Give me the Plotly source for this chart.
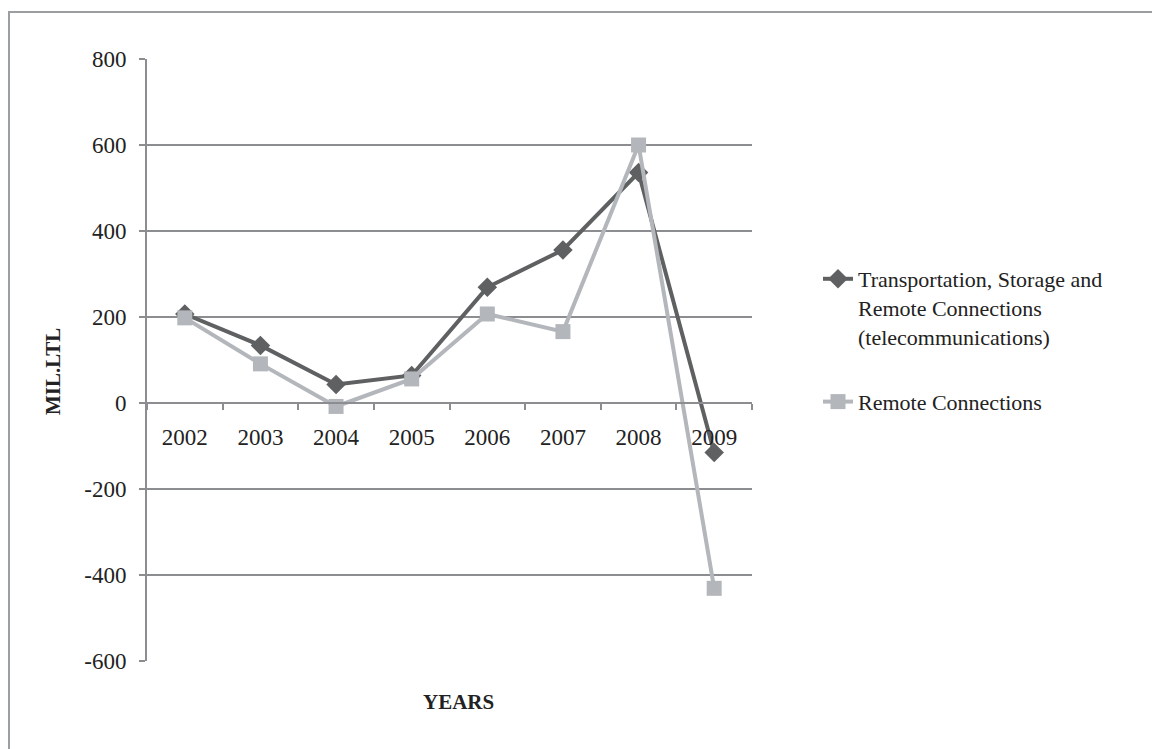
import plotly.graph_objects as go

years = ["2002", "2003", "2004", "2005", "2006", "2007", "2008", "2009"]
transport = [207, 134, 43, 64, 269, 356, 536, -115]
remote = [198, 91, -8, 56, 207, 166, 600, -431]
name_transport = "Transportation, Storage and<br>Remote Connections<br>(telecommunications)"
name_remote = "Remote Connections"
ytick_vals = [-600, -400, -200, 0, 200, 400, 600, 800]
ytick_text = ["-600", "-400", "-200", "0", "200", "400", "600", "800"]

W, H = 1152, 749
L, R, T, B = 147, 752, 59, 661
pw, ph = R - L, B - T


def px(x):
    return (x - L) / pw


def py(y):
    return (B - y) / ph


FONT = "Liberation Serif"
DARK = "#5e6061"
LIGHT = "#b3b6ba"
GRID = "#8b8d90"

fig = go.Figure()
fig.add_trace(go.Scatter(
    x=years, y=transport, name=name_transport, mode="lines+markers",
    line=dict(color=DARK, width=4),
    marker=dict(symbol="diamond", size=15, color=DARK),
    legendgroup="a",
))
fig.add_trace(go.Scatter(
    x=years, y=remote, name=name_remote, mode="lines+markers",
    line=dict(color=LIGHT, width=4),
    marker=dict(symbol="square", size=15, color=LIGHT),
    legendgroup="b",
))

fig.update_layout(
    width=W, height=H,
    margin=dict(l=L, r=W - R, t=T, b=H - B, pad=0),
    paper_bgcolor="white", plot_bgcolor="white",
    font=dict(family=FONT, size=22, color="#222222"),
    showlegend=True,
    legend=dict(
        x=px(818), y=py(258), xanchor="left", yanchor="top",
        font=dict(family=FONT, size=22, color="#222222"),
        valign="top", tracegroupgap=34, bgcolor="rgba(0,0,0,0)",
        itemwidth=30,
    ),
    xaxis=dict(
        type="category", categoryorder="array", categoryarray=years,
        range=[-0.5, 7.5], anchor="free", position=600 / 1400,
        showline=True, linecolor=GRID, linewidth=2,
        ticks="outside", ticklen=6, tickwidth=2, tickcolor=GRID,
        tickson="boundaries", showgrid=False, zeroline=False,
        tickfont=dict(family=FONT, size=23, color="#222222"),
        ticklabelstandoff=13,
    ),
    yaxis=dict(
        range=[-600, 800], tickmode="array", tickvals=ytick_vals, ticktext=ytick_text,
        showline=True, linecolor=GRID, linewidth=2,
        ticks="outside", ticklen=6, tickwidth=2, tickcolor=GRID,
        showgrid=True, gridcolor=GRID, gridwidth=2, zeroline=False,
        tickfont=dict(family=FONT, size=23, color="#222222"),
        ticklabelstandoff=8,
    ),
    annotations=[
        dict(text="<b>MIL.LTL</b>", x=px(53), y=py(372), xref="paper", yref="paper",
             textangle=-90, showarrow=False, xanchor="center", yanchor="middle",
             font=dict(family=FONT, size=21, color="#222222")),
        dict(text="<b>YEARS</b>", x=px(458), y=py(702), xref="paper", yref="paper",
             showarrow=False, xanchor="center", yanchor="middle",
             font=dict(family=FONT, size=21, color="#222222")),
    ],
    shapes=[
        dict(type="rect", xref="paper", yref="paper",
             x0=px(9), x1=px(1170), y0=py(12), y1=py(780),
             line=dict(color="#9c9fa2", width=2), layer="below"),
    ],
)

fig.write_html("out.html")
